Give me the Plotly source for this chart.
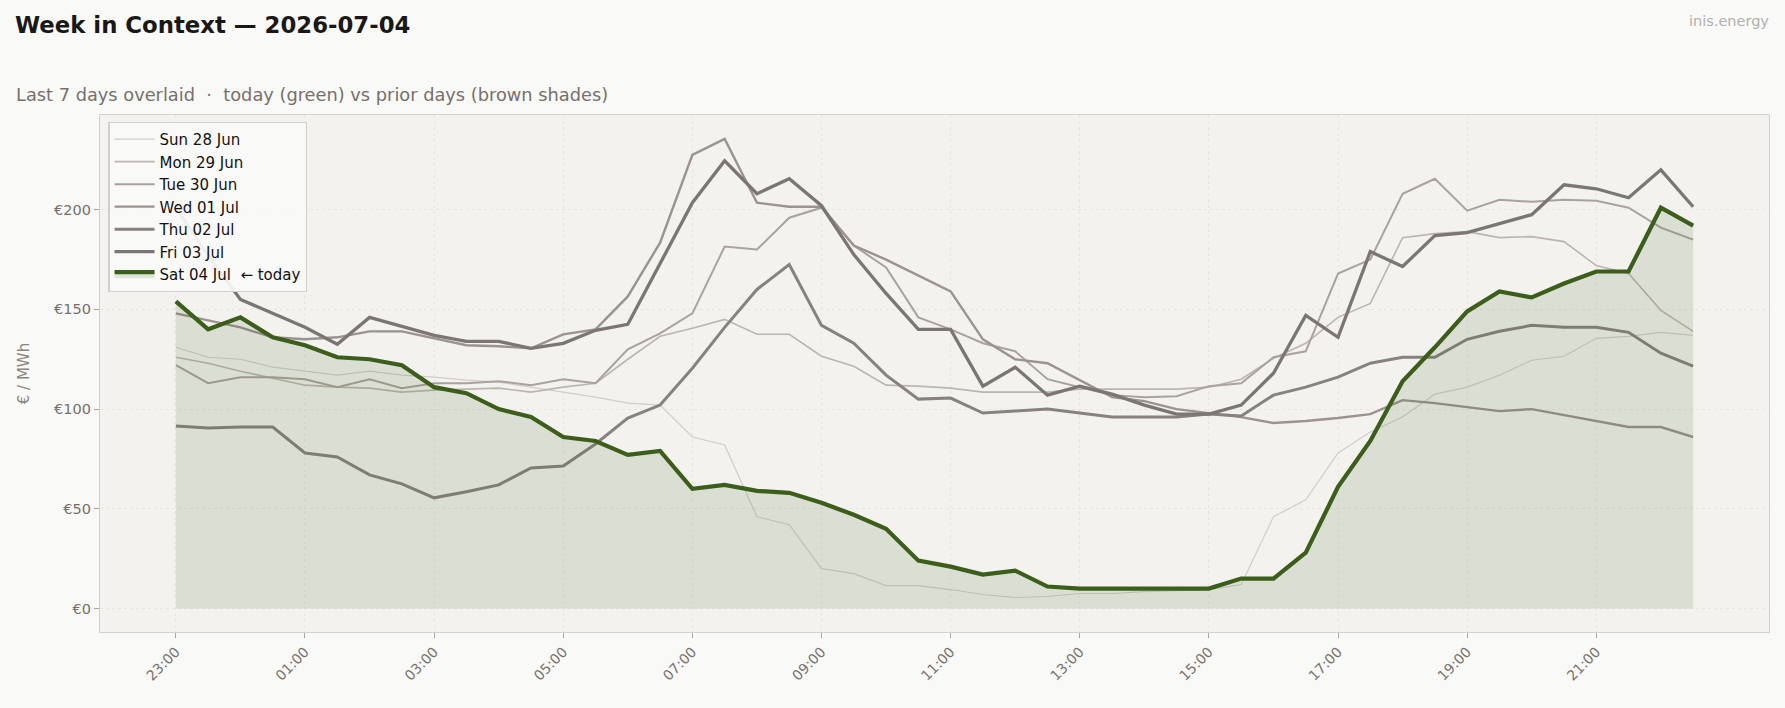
import plotly.graph_objects as go

times = ["23:00", "23:30", "00:00", "00:30", "01:00", "01:30", "02:00", "02:30",
         "03:00", "03:30", "04:00", "04:30", "05:00", "05:30", "06:00", "06:30",
         "07:00", "07:30", "08:00", "08:30", "09:00", "09:30", "10:00", "10:30",
         "11:00", "11:30", "12:00", "12:30", "13:00", "13:30", "14:00", "14:30",
         "15:00", "15:30", "16:00", "16:30", "17:00", "17:30", "18:00", "18:30",
         "19:00", "19:30", "20:00", "20:30", "21:00", "21:30", "22:00", "22:30"]

sun_28_jun = [131, 126, 125, 121, 119, 117, 119, 117, 116, 114.5, 113.5, 111, 108.5, 106, 103, 102,
              86, 82, 46, 42, 20, 17.5, 11.5, 11.5, 9.5, 7, 5.5, 6, 7.5, 7.5, 8.5, 9,
              9.5, 12, 46, 54.5, 78, 88.5, 96, 107.5, 111, 117, 124.5, 126.5, 135.5, 136.5, 138.5, 137]
mon_29_jun = [126, 123, 119, 115.5, 112, 111, 110.5, 108.5, 109.5, 110, 110.5, 108.5, 111, 113, 125, 136.5,
              140.5, 145, 137.5, 137.5, 126.5, 121.5, 112, 111.5, 110.5, 108.5, 108.5, 108.5, 110, 110, 110, 110,
              111, 115, 125.5, 133, 146, 153, 186, 188, 189, 186, 186.5, 184, 172, 168, 149.5, 139]
tue_30_jun = [122, 113, 116, 116, 115, 111, 115, 110.5, 113, 113, 114, 112, 115, 113, 130, 138,
              148, 181.5, 180, 196, 201, 182, 171, 146, 140, 133, 129, 115, 111, 107, 106, 106.5,
              111.5, 113, 126, 129, 168, 175, 208, 215.5, 199.5, 205, 204, 205, 204.5, 201, 191, 185]
wed_01_jul = [148, 144.5, 141, 136, 135, 136, 139, 139, 135.5, 132, 131.5, 130.5, 137.5, 140, 156.5, 183.5,
              227.5, 235.5, 203.5, 201.5, 201.5, 182, 175, 167, 159, 135, 125, 123, 114.5, 106, 104, 100,
              98, 96, 93, 94, 95.5, 97.5, 104.5, 103, 101, 99, 100, 97, 94, 91, 91, 86]
thu_02_jul = [91.5, 90.5, 91, 91, 78, 76, 67, 62.5, 55.5, 58.5, 62, 70.5, 71.5, 82.5, 95.5, 102,
              120.5, 141, 160, 172.5, 142, 133, 117, 105, 105.5, 98, 99, 100, 98, 96, 96, 96,
              97.5, 96.5, 107, 111, 116, 123, 126, 126, 135, 139, 142, 141, 141, 138.5, 128, 121.5]
fri_03_jul = [201, 177, 155, 148, 141, 132.5, 146, 141.5, 137, 134, 134, 130.5, 133, 139.5, 142.5, 173,
              203.5, 224.5, 208, 215.5, 202, 177.5, 158, 140, 140, 111.5, 121, 107, 111.5, 107.5, 102, 97.5,
              97.5, 102, 118, 147, 136, 179, 171.5, 187, 188.5, 193, 197.5, 212.5, 210.5, 206, 220, 201.5]
sat_04_jul = [154, 140, 146, 136, 132, 126, 125, 122, 111, 108, 100, 96, 86, 84, 77, 79,
              60, 62, 59, 58, 53, 47, 40, 24, 21, 17, 19, 11, 10, 10, 10, 10,
              10, 15, 15, 28, 61, 84, 114, 131, 149, 159, 156, 163, 169, 169, 201, 192]

day_labels = ["Sun 28 Jun", "Mon 29 Jun", "Tue 30 Jun", "Wed 01 Jul", "Thu 02 Jul", "Fri 03 Jul"]
today_label = "Sat 04 Jul  \u2190 today"
tick_values = [0, 4, 8, 12, 16, 20, 24, 28, 32, 36, 40, 44]
tick_labels = ["23:00", "01:00", "03:00", "05:00", "07:00", "09:00",
               "11:00", "13:00", "15:00", "17:00", "19:00", "21:00"]
y_ticks = [0, 50, 100, 150, 200]
y_tick_labels = ["\u20ac0", "\u20ac50", "\u20ac100", "\u20ac150", "\u20ac200"]

prior_days = [sun_28_jun, mon_29_jun, tue_30_jun, wed_01_jul, thu_02_jul, fri_03_jul]
prior_colors = ["#d2cdc8", "#bcb5b0", "#aaa29e", "#9b9390", "#88827f", "#7c7673"]
prior_widths = [1.2, 1.6, 2.0, 2.4, 3.0, 3.3]
today_color = "#3b5e1b"

x = list(range(len(times)))

fig = go.Figure()
for vals, name, col, w in zip(prior_days, day_labels, prior_colors, prior_widths):
    fig.add_trace(go.Scatter(x=x, y=vals, mode="lines", name=name,
                             line=dict(color=col, width=w), hoverinfo="skip"))

fig.add_trace(go.Scatter(x=x, y=sat_04_jul, mode="lines", name=today_label,
                         line=dict(color=today_color, width=4.2),
                         fill="tozeroy", fillcolor="rgba(59,94,27,0.125)"))

font_family = "DejaVu Sans"
tick_col = "#77706c"
grid_col = "#e8e5e0"

fig.update_layout(
    width=1785, height=708,
    paper_bgcolor="#f9f9f7",
    plot_bgcolor="#f3f2ee",
    margin=dict(l=100, r=16, t=115, b=76),
    font=dict(family=font_family, color=tick_col, size=13),
    title=dict(text="<b>Week in Context \u2014 2026-07-04</b>",
               x=15 / 1785, xanchor="left", xref="container",
               y=1 - 25 / 708, yanchor="middle", yref="container",
               font=dict(size=22.8, color="#1a1816", family=font_family)),
    showlegend=True,
    legend=dict(x=0.005, y=0.987, xanchor="left", yanchor="top",
                bgcolor="rgba(250,250,248,0.92)", bordercolor="#d3cfca", borderwidth=1.2,
                font=dict(size=15, color="#111111", family=font_family),
                tracegroupgap=0, itemwidth=40),
    annotations=[
        dict(text="Last 7 days overlaid  \u00b7  today (green) vs prior days (brown shades)",
             xref="paper", yref="paper", x=(14 - 100) / 1669, y=(632 - 94.5) / 517,
             xanchor="left", yanchor="middle", showarrow=False,
             font=dict(size=17.8, color="#77706c", family=font_family)),
        dict(text="inis.energy", xref="paper", yref="paper",
             x=(1771 - 100) / 1669, y=(632 - 21) / 517,
             xanchor="right", yanchor="middle", showarrow=False,
             font=dict(size=14.5, color="#b3b0ad", family=font_family)),
    ],
)

fig.update_xaxes(range=[-2.35, 49.35], tickmode="array", tickvals=tick_values, ticktext=tick_labels,
                 tickangle=-45, ticks="outside", ticklen=5, tickcolor="#aaa6a2",
                 showgrid=True, gridcolor=grid_col, griddash="3px,3px", gridwidth=0.8,
                 zeroline=False, showline=True, linecolor="#d5d1cb", linewidth=1.3, mirror=True,
                 tickfont=dict(size=14, color=tick_col))
fig.update_yaxes(range=[-11.8, 247.5], tickmode="array", tickvals=y_ticks, ticktext=y_tick_labels,
                 ticks="outside", ticklen=5, tickcolor="#aaa6a2",
                 showgrid=True, gridcolor=grid_col, griddash="3px,3px", gridwidth=0.8,
                 zeroline=False, showline=True, linecolor="#d5d1cb", linewidth=1.3, mirror=True,
                 tickfont=dict(size=14.5, color=tick_col),
                 title=dict(text="\u20ac / MWh", font=dict(size=15, color="#8a8480"), standoff=20))

fig.write_html("out.html")
